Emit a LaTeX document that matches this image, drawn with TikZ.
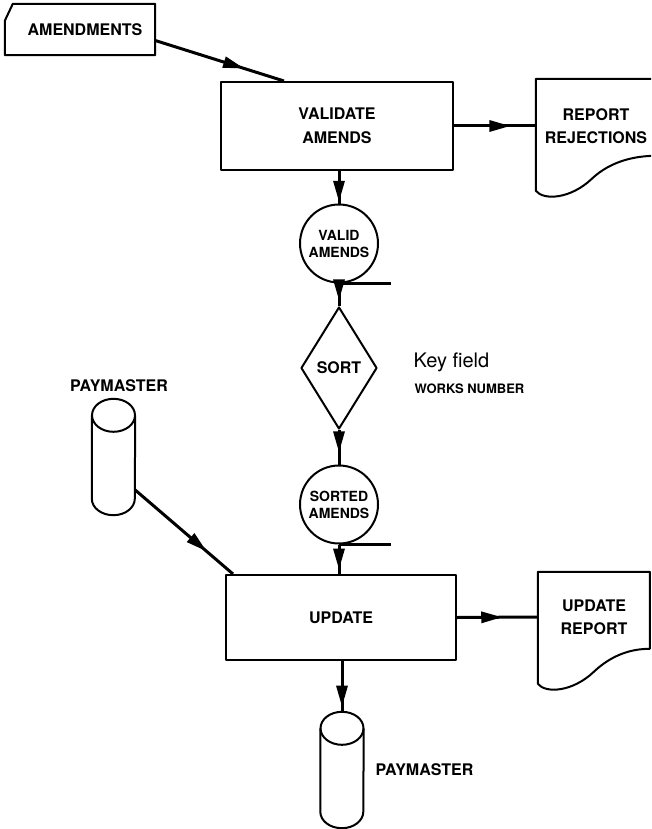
\documentclass[tikz,border=0pt]{standalone}
\usepackage{fontspec}
\newfontfamily\chartfont{TeX Gyre Heros}
\usetikzlibrary{arrows.meta,decorations.markings,shapes.geometric}
\tikzset{
  chart font/.style={font=\chartfont\bfseries\fontsize{16}{24}\selectfont},
  outline/.style={line width=2pt,line join=round},
  process box/.style={draw,outline,chart font,align=center,inner sep=0pt},
  data circle/.style={circle,draw,outline,minimum size=78pt,inner sep=0pt,align=center,
    font=\chartfont\bfseries\fontsize{14}{17}\selectfont},
  sort node/.style={diamond,draw,outline,minimum width=76pt,minimum height=122pt,inner sep=0pt,chart font},
  doc text/.style={chart font,align=center,inner sep=0pt,font=\chartfont\bfseries\fontsize{16}{23}\selectfont},
  disk file/.style={inner sep=0pt,minimum width=43pt,minimum height=116pt},
  flow line/.style={line width=3pt},
  flow arrow/.style={flow line,postaction={decorate},
    decoration={markings,mark=at position #1 with {\arrow{Triangle[length=21pt,width=11pt]}}}},
  tangent line/.style={line width=2.6pt},
}

\begin{document}
\begin{tikzpicture}[x=1pt,y=-1pt]
  \fill[white] (0,0) rectangle (651,829);
  \useasboundingbox (0,0) rectangle (651,829);
  \clip (0,0) rectangle (651,829);
  % input card
  \node[chart font,inner sep=0pt,minimum width=140pt,minimum height=51pt] (amendments) at (85,29.5) {AMENDMENTS};
  \draw[outline] ([xshift=-10pt]amendments.south west) -- ([xshift=-10pt,yshift=-17pt]amendments.north west)
    -- ([xshift=-2pt]amendments.north west) -- (amendments.north east) -- (amendments.south east) -- cycle;
  % processes and files
  \node[process box,minimum width=232pt,minimum height=88pt] (validate) at (337,126) {VALIDATE\\AMENDS};
  \node[doc text,minimum width=120pt,minimum height=94pt] (rejections) at (596,126) {REPORT\\REJECTIONS};
  \node[data circle] (valid) at (339,243.5) {VALID\\AMENDS};
  \node[sort node] (sort) at (339,368) {SORT};
  \node[anchor=base west,font=\chartfont\fontsize{20}{24}\selectfont] (key field) at (410,367) {Key field};
  \node[anchor=base west,font=\chartfont\bfseries\fontsize{13}{16}\selectfont] (works number) at (411,393) {WORKS NUMBER};
  \node[data circle] (sorted) at (339,504.5) {SORTED\\AMENDS};
  \node[disk file] (paymaster in) at (113.5,457) {};
  \node[chart font,anchor=base] (paymaster in label) at (119,391) {PAYMASTER};
  \node[process box,minimum width=230pt,minimum height=85pt] (update) at (341,617.5) {UPDATE};
  \node[doc text,minimum width=112pt,minimum height=90pt] (update report) at (594,617) {UPDATE\\REPORT};
  \node[disk file] (paymaster out) at (342,770) {};
  \node[chart font,anchor=base west] (paymaster out label) at (372,775) {PAYMASTER};
  % document outlines
  \begin{scope}[shift={(rejections.north west)}]
    \draw[outline] (120,0) -- (0,0) -- (0,112) .. controls (8,122) and (35,120) .. (56,100)
      .. controls (75,82) and (100,77) .. (120,77);
  \end{scope}
  \begin{scope}[shift={(update report.north west)}]
    \draw[outline] (0,112) -- (0,0) -- (112,0) -- (112,77) .. controls (95,77) and (75,82) .. (56,100)
      .. controls (35,120) and (8,122) .. (0,112);
  \end{scope}
  % disk outlines
  \foreach \disk in {paymaster in,paymaster out} {
    \draw[outline] ([yshift=-16.5pt]\disk.north) ellipse [x radius=21.5pt,y radius=16.5pt];
    \draw[outline] ([yshift=-16.5pt]\disk.north west) -- ([yshift=16.5pt]\disk.south west)
      arc[start angle=180,end angle=360,x radius=21.5pt,y radius=16.5pt] -- ([yshift=-16.5pt]\disk.north east);
  }
  % flow lines
  \draw[flow arrow=0.69] ([yshift=-11pt]amendments.east) -- ([xshift=64pt]validate.north west);
  \draw[flow arrow=0.69] (validate.east) -- (rejections.west);
  \draw[flow arrow=0.95] (valid.north |- validate.south) -- (valid.north);
  \draw[flow arrow=0.75] (valid.south) -- (sort.north);
  \draw[tangent line] (valid.south) -- ++(52,0);
  \draw[flow arrow=0.65] (sort.south) -- (sorted.north);
  \draw[tangent line] (sorted.south) -- ++(52,0);
  \draw[flow arrow=0.85] (sorted.south) -- (sorted.south |- update.north);
  \draw[flow arrow=0.73] ([yshift=-33pt]paymaster in.east) -- ([xshift=8pt]update.north west);
  \draw[flow arrow=0.56] (update.east) -- (update report.west);
  \draw[flow arrow=0.9] (update.south -| paymaster out.north) -- (paymaster out.north);
\end{tikzpicture}
\end{document}
